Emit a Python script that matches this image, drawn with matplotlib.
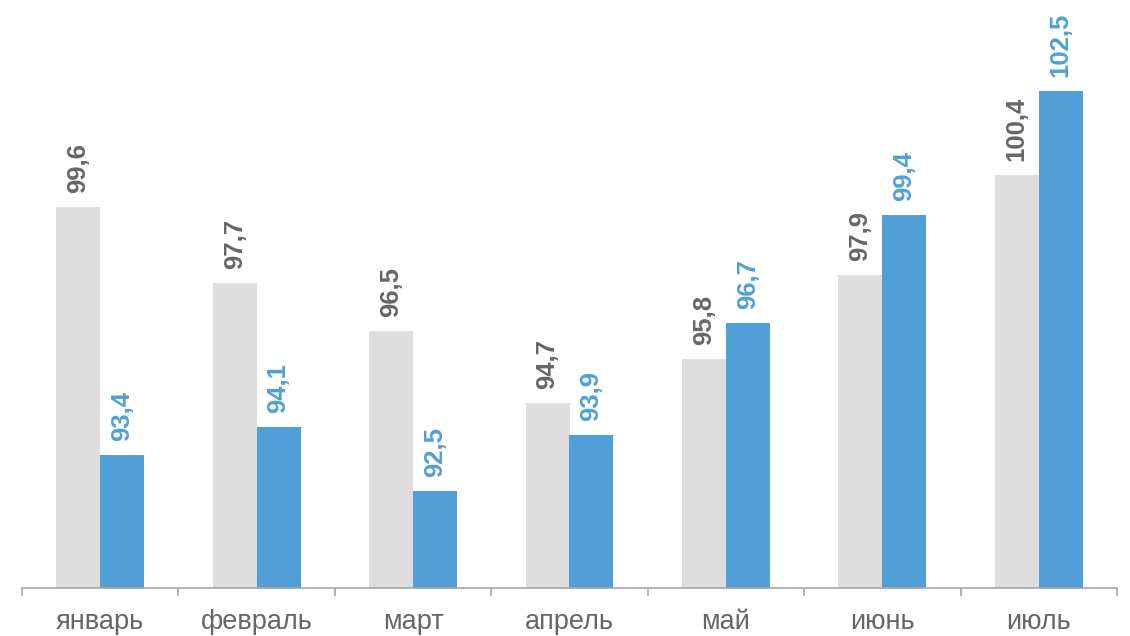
import matplotlib
matplotlib.use("Agg")
import matplotlib.pyplot as plt
import numpy as np

# months and the two series
months = ['январь', 'февраль', 'март', 'апрель', 'май', 'июнь', 'июль']
series_gray = [99.6, 97.7, 96.5, 94.7, 95.8, 97.9, 100.4]
series_blue = [93.4, 94.1, 92.5, 93.9, 96.7, 99.4, 102.5]

gray = '#dddddd'
blue = '#509fd7'
text_gray = '#666666'
axis_gray = '#a6a6a6'

plt.rcParams['font.family'] = ['Liberation Sans', 'DejaVu Sans']

fig = plt.figure(figsize=(11.3, 6.36), dpi=100)
ax = fig.add_axes([22 / 1130, 48 / 636, 1095 / 1130, 588 / 636])

x = np.arange(len(months))
w = 0.281

ax.bar(x - w / 2, series_gray, width=w, color=gray)
ax.bar(x + w / 2, series_blue, width=w, color=blue)

ax.set_ylim(90.07, 104.77)
ax.set_xlim(-0.5, len(months) - 0.5)

# bar labels, rotated, decimal comma
for xs, vals, col in [(x - w / 2, series_gray, text_gray), (x + w / 2, series_blue, blue)]:
    for xi, v in zip(xs, vals):
        ax.annotate(f"{v:.1f}".replace('.', ','), (xi, v), xytext=(0, 10),
                    textcoords='offset points', rotation=90, ha='center', va='bottom',
                    fontsize=18.5, fontweight='bold', color=col)

for s in ['top', 'right', 'left']:
    ax.spines[s].set_visible(False)
ax.spines['bottom'].set_color(axis_gray)
ax.spines['bottom'].set_linewidth(1.2)

ax.set_yticks([])
ax.set_xticks(x)
ax.set_xticklabels(months, fontsize=19.5, color=text_gray)
ax.tick_params(axis='x', which='major', length=0, pad=15)
ax.set_xticks(np.arange(-0.5, len(months)), minor=True)
ax.tick_params(axis='x', which='minor', length=6, width=1.2, color=axis_gray)

fig.savefig('out.png', dpi=100)
